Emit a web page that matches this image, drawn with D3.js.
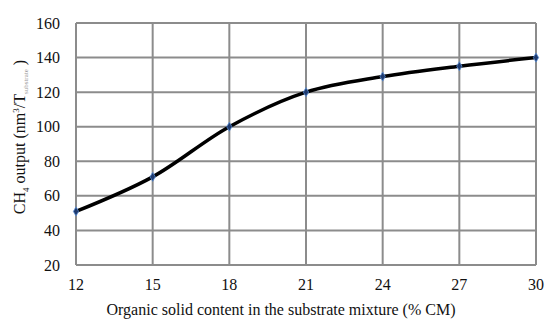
<!DOCTYPE html>
<html>
<head>
<meta charset="utf-8">
<script src="https://cdn.jsdelivr.net/npm/d3@7"></script>
<style>
  body { margin: 0; background: #fff; }
  text { font-family: "Liberation Serif", "DejaVu Serif", serif; fill: #111; }
</style>
</head>
<body>
<svg id="chart"></svg>
<script>
// data
const solids = [12, 15, 18, 21, 24, 27, 30];
const output = [51, 71, 100, 120, 129, 135, 140];
const xTicks = [12, 15, 18, 21, 24, 27, 30];
const yTicks = [20, 40, 60, 80, 100, 120, 140, 160];

const width = 545;
const height = 319;
const margin = { left: 76, right: 9, top: 23, bottom: 54 };
const visWidth = width - margin.left - margin.right;
const visHeight = height - margin.top - margin.bottom;

const svg = d3.select('svg#chart').attr('width', width).attr('height', height);
const g = svg.append('g').attr('transform', 'translate(' + margin.left + ',' + margin.top + ')');

const xScale = d3.scaleLinear().domain([12, 30]).range([0, visWidth]);
const yScale = d3.scaleLinear().domain([20, 160]).range([visHeight, 0]);

// grid
g.append('g').selectAll('line').data(yTicks).enter().append('line')
  .attr('x1', 0).attr('x2', visWidth)
  .attr('y1', d => yScale(d)).attr('y2', d => yScale(d))
  .attr('stroke', '#8c8c8c').attr('stroke-width', 2);
g.append('g').selectAll('line').data(xTicks).enter().append('line')
  .attr('y1', 0).attr('y2', visHeight)
  .attr('x1', d => xScale(d)).attr('x2', d => xScale(d))
  .attr('stroke', '#8c8c8c').attr('stroke-width', 2);

// tick labels
g.append('g').selectAll('text').data(yTicks).enter().append('text')
  .attr('x', -16).attr('y', d => yScale(d)).attr('dy', '0.35em')
  .attr('text-anchor', 'end').attr('font-size', 16).text(d => d);
g.append('g').selectAll('text').data(xTicks).enter().append('text')
  .attr('x', d => xScale(d)).attr('y', visHeight + 25)
  .attr('text-anchor', 'middle').attr('font-size', 16).text(d => d);

// line
const pts = solids.map((s, i) => [s, output[i]]);
const line = d3.line().x(d => xScale(d[0])).y(d => yScale(d[1])).curve(d3.curveCatmullRom.alpha(0.5));
g.append('path').datum(pts).attr('d', line)
  .attr('fill', 'none').attr('stroke', '#000').attr('stroke-width', 3.5);

// markers
g.append('g').selectAll('path').data(pts).enter().append('path')
  .attr('d', d3.symbol().type(d3.symbolDiamond).size(24))
  .attr('transform', d => 'translate(' + xScale(d[0]) + ',' + yScale(d[1]) + ')')
  .attr('fill', '#1f3a6e').attr('stroke', '#5b8fd6').attr('stroke-width', 0.8);

// axis titles
svg.append('text').attr('x', 281).attr('y', 315)
  .attr('text-anchor', 'middle').attr('font-size', 16)
  .text('Organic solid content in the substrate mixture (% CM)');

const yt = svg.append('text')
  .attr('transform', 'translate(25,' + 137 + ') rotate(-90)')
  .attr('text-anchor', 'middle').attr('font-size', 16);
yt.append('tspan').text('CH');
yt.append('tspan').attr('font-size', 9).attr('dy', 4).text('4');
yt.append('tspan').attr('dy', -4).text(' output (nm');
yt.append('tspan').attr('font-size', 9).attr('dy', -6).text('3');
yt.append('tspan').attr('dy', 6).text('/T');
yt.append('tspan').attr('font-size', 7).attr('dy', 3).attr('fill', '#999').text('substrate');
yt.append('tspan').attr('dy', -3).text(' )');
</script>
</body>
</html>
